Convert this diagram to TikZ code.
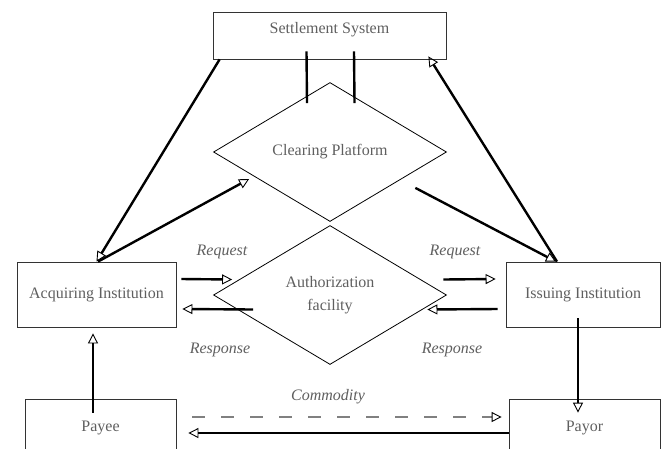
\documentclass[tikz,border=0pt]{standalone}
\usepackage{fontspec}
\setmainfont{Liberation Serif}
\usepackage{xcolor}
\usepackage{tikz}
\usetikzlibrary{shapes.geometric,arrows.meta,calc}
\definecolor{labelgray}{RGB}{95,95,95}

\begin{document}
\begin{tikzpicture}[x=1pt,y=-1pt,
	box/.style={draw=black!80, line width=0.8pt, rectangle, inner sep=0pt, text=labelgray},
	platform/.style={draw, line width=0.8pt, diamond, aspect=1.68, minimum width=233pt, minimum height=139pt, inner sep=0pt, text=labelgray, align=center},
	flow/.style={line width=2.4pt, -{Triangle[open,length=10pt,width=10pt,line width=0.9pt,color=black]}},
	link/.style={line width=2.4pt},
	goods/.style={draw=gray, line width=1.2pt, dash pattern=on 13pt off 16pt},
	tag/.style={text=labelgray, font=\itshape}]
	\fontsize{16}{23}\selectfont
	\useasboundingbox (0,0) rectangle (661,448);
	\clip (0,0) rectangle (661,448);
	% institutions and systems
	\node[box, minimum width=233pt, minimum height=47pt, text depth=16pt] (settle) at (329.5,35.5) {Settlement System};
	\node[box, minimum width=159pt, minimum height=65pt] (acq) at (96.5,294.5) {Acquiring Institution};
	\node[box, minimum width=154pt, minimum height=65pt] (iss) at (583,294.5) {Issuing Institution};
	\node[box, minimum width=151pt, minimum height=58pt] (payee) at (100.5,428) {Payee};
	\node[box, minimum width=151pt, minimum height=58pt] (payor) at (584.5,428) {Payor};
	\node[platform] (clear) at (330,152) {Clearing Platform};
	\node[platform] (auth) at (330,295) {Authorization\\facility};
	% labels
	\node[tag] (req1) at (222,252) {Request};
	\node[tag] (req2) at (455,252) {Request};
	\node[tag] (resp1) at (220,350) {Response};
	\node[tag] (resp2) at (452,350) {Response};
	\node[tag] (comm) at (328,397) {Commodity};
	% settlement and clearing
	\draw[flow] ([xshift=7pt]settle.south west) -- (acq.north);
	\draw[flow] ([xshift=1.5pt]acq.north) -- ([shift={(36,27)}]clear.west);
	\draw[flow] ($(clear.east)!0.27!(clear.south)+(0,17)$) -- ([xshift=-27pt]iss.north);
	\draw[flow] ([xshift=-26pt]iss.north) -- ([shift={(-18,-3)}]settle.south east);
	\draw[link] ([shift={(-23,-8)}]settle.south) -- ([shift={(-23,21)}]clear.north);
	\draw[link] ([shift={(24.5,-8)}]settle.south) -- ([shift={(24.5,21)}]clear.north);
	% authorization
	\draw[flow] ([shift={(5,-15.5)}]acq.east) -- ([shift={(19,-15.5)}]auth.west);
	\draw[flow] ([shift={(-3.5,-15.5)}]auth.east) -- ([shift={(-10,-15.5)}]iss.west);
	\draw[flow] ([shift={(-8,14.5)}]iss.west) -- ([shift={(-19.5,14.5)}]auth.east);
	\draw[flow] ([shift={(40,14.5)}]auth.west) -- ([shift={(6,14.5)}]acq.east);
	% payment
	\draw[flow] ([shift={(-7.5,14)}]payee.north) -- ([shift={(-3.5,6)}]acq.south);
	\draw[flow] ([shift={(-5,-9)}]iss.south) -- ([shift={(-6.5,14)}]payor.north);
	\draw[flow, goods] ([shift={(16,-11)}]payee.east) -- ([shift={(-7,-11)}]payor.west);
	\draw[flow] ([shift={(0,5)}]payor.west) -- ([shift={(12,5)}]payee.east);
\end{tikzpicture}
\end{document}
